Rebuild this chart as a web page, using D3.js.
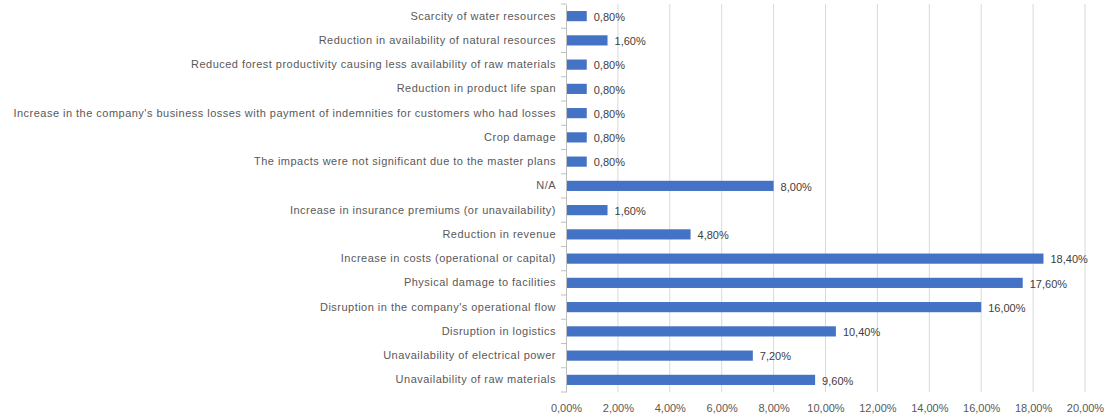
<!DOCTYPE html>
<html>
<head>
<meta charset="utf-8">
<script src="https://cdn.jsdelivr.net/npm/d3@7"></script>
<style>
  html, body { margin: 0; padding: 0; background: #fff; }
  svg { display: block; }
  text { font-family: "Liberation Sans", Arial, sans-serif; }
</style>
</head>
<body>
<svg id="chart" width="1113" height="416"></svg>
<script>
// Impacts reported by companies (share of respondents, %)
const categories = [
  "Scarcity of water resources",
  "Reduction in availability of natural resources",
  "Reduced forest productivity causing less availability of raw materials",
  "Reduction in product life span",
  "Increase in the company's business losses with payment of indemnities for customers who had losses",
  "Crop damage",
  "The impacts were not significant due to the master plans",
  "N/A",
  "Increase in insurance premiums (or unavailability)",
  "Reduction in revenue",
  "Increase in costs (operational or capital)",
  "Physical damage to facilities",
  "Disruption in the company's operational flow",
  "Disruption in logistics",
  "Unavailability of electrical power",
  "Unavailability of raw materials"
];
const values = [0.8, 1.6, 0.8, 0.8, 0.8, 0.8, 0.8, 8.0, 1.6, 4.8, 18.4, 17.6, 16.0, 10.4, 7.2, 9.6];
const xTicks = [0, 2, 4, 6, 8, 10, 12, 14, 16, 18, 20];

const fmt = v => v.toFixed(2).replace(".", ",") + "%";

const svg = d3.select("#chart");
const margin = { left: 566, right: 28, top: 4, bottom: 24 };
const W = 1113, H = 416;

const x = d3.scaleLinear().domain([0, 20]).range([margin.left, W - margin.right]);
const y = d3.scaleBand().domain(categories).range([margin.top, H - margin.bottom]).paddingInner(0.58).paddingOuter(0.29);

// vertical gridlines
svg.append("g")
  .selectAll("line")
  .data(xTicks.slice(1))
  .join("line")
  .attr("x1", d => x(d)).attr("x2", d => x(d))
  .attr("y1", margin.top).attr("y2", H - margin.bottom)
  .attr("stroke", "#d9d9d9").attr("stroke-width", 1);

// bars
svg.append("g")
  .selectAll("rect")
  .data(values)
  .join("rect")
  .attr("x", x(0))
  .attr("y", (d, i) => y(categories[i]))
  .attr("width", d => x(d) - x(0))
  .attr("height", y.bandwidth())
  .attr("fill", "#4472c4");

// value labels
svg.append("g")
  .selectAll("text")
  .data(values)
  .join("text")
  .attr("x", d => x(d) + 7)
  .attr("y", (d, i) => y(categories[i]) + y.bandwidth() / 2 + 1)
  .attr("dy", "0.35em")
  .attr("font-size", 11)
  .attr("fill", "#404040")
  .text(d => fmt(d));

// category axis
const yAxis = d3.axisLeft(y).tickSize(0).tickPadding(10);
const gy = svg.append("g").attr("transform", `translate(${x(0)},0)`).call(yAxis);
gy.select(".domain").attr("stroke", "#bfbfbf");
gy.selectAll("text").attr("font-size", 11).attr("fill", "#595959")
  .attr("letter-spacing", "0.48px")
  .attr("font-family", "'Liberation Sans', Arial, sans-serif");

// tick marks between categories
const step = y.step();
const bounds = d3.range(categories.length + 1).map(i => margin.top + i * step);
svg.append("g")
  .selectAll("line")
  .data(bounds)
  .join("line")
  .attr("x1", x(0) - 5).attr("x2", x(0))
  .attr("y1", d => d).attr("y2", d => d)
  .attr("stroke", "#bfbfbf");

// value axis labels
const xAxis = d3.axisBottom(x).tickValues(xTicks).tickSize(0).tickPadding(12).tickFormat(fmt);
const gx = svg.append("g").attr("transform", `translate(0,${H - margin.bottom})`).call(xAxis);
gx.select(".domain").remove();
gx.selectAll("text").attr("font-size", 11).attr("fill", "#595959")
  .attr("font-family", "'Liberation Sans', Arial, sans-serif");
</script>
</body>
</html>
